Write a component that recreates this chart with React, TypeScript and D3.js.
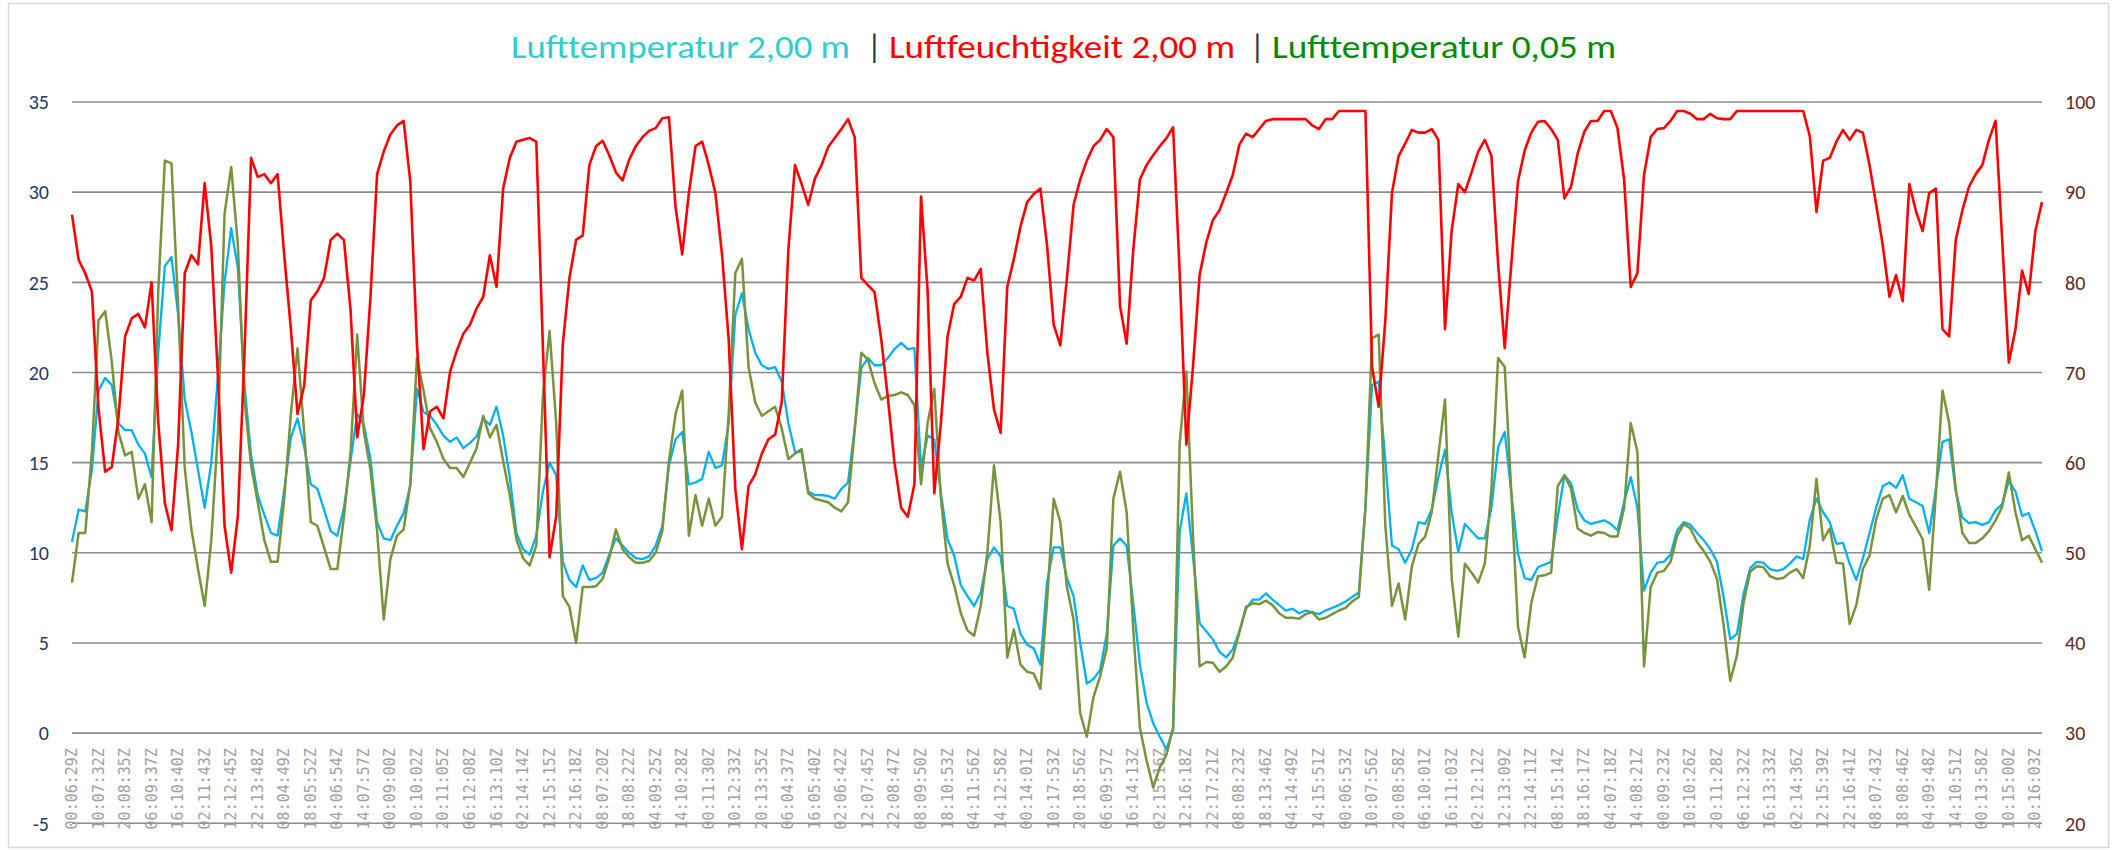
import React from 'react';
import * as d3 from 'd3';

const xLabels = [
  "00:06:29Z","10:07:32Z","20:08:35Z","06:09:37Z","16:10:40Z","02:11:43Z","12:12:45Z","22:13:48Z","08:04:49Z","18:05:52Z",
  "04:06:54Z","14:07:57Z","00:09:00Z","10:10:02Z","20:11:05Z","06:12:08Z","16:13:10Z","02:14:14Z","12:15:15Z","22:16:18Z",
  "08:07:20Z","18:08:22Z","04:09:25Z","14:10:28Z","00:11:30Z","10:12:33Z","20:13:35Z","06:04:37Z","16:05:40Z","02:06:42Z",
  "12:07:45Z","22:08:47Z","08:09:50Z","18:10:53Z","04:11:56Z","14:12:58Z","00:14:01Z","10:17:53Z","20:18:56Z","06:09:57Z",
  "16:14:13Z","02:15:16Z","12:16:18Z","22:17:21Z","08:08:23Z","18:13:46Z","04:14:49Z","14:15:51Z","00:06:53Z","10:07:56Z",
  "20:08:58Z","06:10:01Z","16:11:03Z","02:12:12Z","12:13:09Z","22:14:11Z","08:15:14Z","18:16:17Z","04:07:18Z","14:08:21Z",
  "00:09:23Z","10:10:26Z","20:11:28Z","06:12:32Z","16:13:33Z","02:14:36Z","12:15:39Z","22:16:41Z","08:07:43Z","18:08:46Z",
  "04:09:48Z","14:10:51Z","00:13:58Z","10:15:00Z","20:16:03Z"
];

// Lufttemperatur 2,00 m (°C, left axis)
const tempAir2m = [
  10.6, 12.4, 12.3, 14.6, 19.0, 19.7, 19.3, 17.2, 16.8, 16.8,
  16.0, 15.5, 14.2, 21.1, 25.9, 26.4, 23.2, 18.5, 16.7, 14.6,
  12.5, 15.0, 19.8, 25.0, 28.0, 25.8, 19.3, 15.4, 13.2, 12.1,
  11.1, 10.95, 13.5, 16.4, 17.45, 15.9, 13.8, 13.55, 12.4, 11.2,
  10.95, 12.5, 15.1, 17.7, 17.1, 15.2, 11.7, 10.8, 10.7, 11.5,
  12.2, 13.7, 19.1, 17.8, 17.6, 17.1, 16.5, 16.15, 16.4, 15.8,
  16.1, 16.45, 17.45, 17.1, 18.1, 16.5, 14.2, 11.1, 10.2, 9.9,
  10.95, 13.4, 15.0, 14.3, 9.5, 8.5, 8.1, 9.3, 8.5, 8.6,
  8.9, 9.9, 10.8, 10.4, 10.0, 9.7, 9.65, 9.8, 10.4, 11.5,
  14.85, 16.3, 16.7, 13.8, 13.9, 14.1, 15.6, 14.7, 14.85, 17.2,
  23.2, 24.4, 22.4, 21.1, 20.4, 20.2, 20.3, 19.5, 17.2, 15.6,
  15.6, 13.4, 13.2, 13.2, 13.15, 13.0, 13.55, 13.9, 16.9, 20.25,
  20.8, 20.4, 20.4, 20.8, 21.3, 21.65, 21.3, 21.35, 14.7, 16.5,
  16.3, 13.3, 10.75, 9.85, 8.2, 7.6, 7.05, 7.8, 9.65, 10.3,
  9.8, 7.05, 6.9, 5.5, 4.9, 4.7, 3.8, 8.35, 10.3, 10.3,
  8.6, 7.6, 5.0, 2.75, 3.0, 3.5, 5.5, 10.4, 10.8, 10.4,
  7.2, 3.8, 1.7, 0.55, -0.2, -0.9, 0.2, 11.2, 13.3, 9.8,
  6.1, 5.65, 5.2, 4.5, 4.2, 4.65, 5.65, 6.9, 7.4, 7.4,
  7.75, 7.4, 7.1, 6.8, 6.9, 6.65, 6.8, 6.7, 6.6, 6.8,
  6.95, 7.1, 7.3, 7.55, 7.8, 12.5, 19.3, 19.5, 15.1, 10.4,
  10.2, 9.45, 10.2, 11.7, 11.6, 12.4, 14.2, 15.7, 12.25, 10.05,
  11.6, 11.2, 10.8, 10.8, 12.5, 15.85, 16.7, 13.3, 9.95, 8.6,
  8.5, 9.2, 9.35, 9.5, 12.0, 14.3, 13.85, 12.4, 11.8, 11.6,
  11.7, 11.8, 11.6, 11.25, 12.8, 14.2, 12.5, 7.9, 8.9, 9.45,
  9.5, 9.9, 11.25, 11.7, 11.55, 11.1, 10.7, 10.2, 9.5, 7.55,
  5.2, 5.5, 7.7, 9.15, 9.5, 9.45, 9.1, 9.0, 9.1, 9.4,
  9.8, 9.65, 11.85, 13.0, 12.25, 11.7, 10.5, 10.55, 9.4, 8.5,
  9.7, 11.1, 12.5, 13.7, 13.9, 13.6, 14.3, 13.0, 12.8, 12.6,
  11.1, 13.55, 16.15, 16.3, 13.4, 11.95, 11.65, 11.7, 11.55, 11.7,
  12.35, 12.7, 14.0, 13.4, 12.05, 12.2, 11.2, 10.1
];

// Luftfeuchtigkeit 2,00 m (%, right axis)
const humidity2m = [
  87.5, 82.5, 81.0, 79.0, 66.0, 59.0, 59.5, 65.0, 74.0, 76.0,
  76.5, 75.0, 80.0, 64.5, 55.5, 52.5, 62.0, 81.0, 83.0, 82.0,
  91.0, 84.0, 69.6, 53.0, 47.8, 54.0, 72.0, 93.8, 91.7, 92.0,
  91.0, 92.0, 83.0, 74.8, 65.4, 68.5, 78.0, 79.0, 80.5, 84.7,
  85.4, 84.7, 76.9, 62.8, 67.5, 78.4, 92.0, 94.5, 96.4, 97.4,
  97.9, 91.2, 73.2, 61.5, 65.7, 66.2, 64.9, 70.1, 72.4, 74.3,
  75.3, 77.1, 78.4, 83.0, 79.5, 90.4, 93.8, 95.6, 95.8, 96.0,
  95.6, 72.7, 49.5, 54.0, 73.2, 80.5, 84.7, 85.2, 93.0, 95.1,
  95.7, 94.1, 92.2, 91.3, 93.6, 95.1, 96.1, 96.8, 97.1, 98.2,
  98.3, 88.3, 83.1, 89.9, 95.1, 95.6, 93.0, 89.9, 83.1, 73.7,
  57.1, 50.4, 57.4, 58.7, 61.0, 62.6, 63.1, 66.7, 83.6, 93.0,
  90.9, 88.6, 91.5, 93.0, 95.0, 96.0, 97.0, 98.1, 96.1, 80.5,
  79.7, 78.9, 73.7, 67.2, 60.0, 55.0, 54.0, 57.6, 89.5, 79.0,
  56.6, 64.4, 74.0, 77.6, 78.4, 80.5, 80.2, 81.5, 72.2, 65.9,
  63.3, 79.5, 82.6, 86.2, 88.9, 89.8, 90.4, 84.1, 75.3, 73.0,
  80.5, 88.6, 91.4, 93.5, 95.1, 95.8, 97.0, 96.1, 77.4, 73.2,
  83.6, 91.4, 93.0, 94.1, 95.1, 96.0, 97.2, 81.0, 62.0, 70.6,
  80.8, 84.4, 86.9, 88.0, 89.9, 91.9, 95.3, 96.5, 96.1, 97.0,
  97.9, 98.1, 98.1, 98.1, 98.1, 98.1, 98.1, 97.4, 97.0, 98.1,
  98.1, 99.0, 99.0, 99.0, 99.0, 99.0, 70.6, 66.2, 75.8, 89.9,
  94.0, 95.4, 96.9, 96.6, 96.6, 97.0, 95.8, 74.8, 85.7, 90.9,
  90.0, 92.2, 94.5, 95.8, 94.0, 82.1, 72.7, 82.1, 91.2, 94.6,
  96.6, 97.8, 97.9, 97.0, 95.8, 89.3, 90.6, 94.3, 96.7, 97.9,
  97.9, 99.0, 99.0, 97.1, 91.4, 79.5, 81.0, 91.9, 96.1, 97.0,
  97.1, 97.9, 99.0, 99.0, 98.7, 98.1, 98.1, 98.7, 98.2, 98.1,
  98.1, 99.0, 99.0, 99.0, 99.0, 99.0, 99.0, 99.0, 99.0, 99.0,
  99.0, 99.0, 96.2, 87.8, 93.5, 93.8, 95.6, 96.9, 95.8, 96.9,
  96.6, 93.0, 88.6, 84.1, 78.4, 80.8, 77.9, 90.9, 87.9, 85.7,
  89.9, 90.4, 74.8, 74.0, 84.7, 88.0, 90.6, 92.0, 93.0, 95.8,
  97.9, 84.7, 71.1, 74.8, 81.3, 78.7, 85.7, 88.9
];

// Lufttemperatur 0,05 m (°C, left axis)
const tempAir005m = [
  8.35, 11.1, 11.1, 15.6, 22.9, 23.4, 20.6, 16.7, 15.4, 15.6,
  13.0, 13.8, 11.7, 24.5, 31.75, 31.6, 23.7, 14.7, 11.3, 9.1,
  7.05, 10.7, 16.7, 28.8, 31.4, 27.1, 18.5, 14.85, 12.8, 10.7,
  9.5, 9.5, 13.0, 17.7, 21.35, 16.7, 11.7, 11.5, 10.3, 9.1,
  9.1, 12.0, 15.6, 22.1, 16.7, 14.6, 11.2, 6.3, 9.65, 10.95,
  11.3, 13.8, 20.8, 19.0, 16.9, 16.15, 15.2, 14.7, 14.7, 14.2,
  15.0, 15.8, 17.6, 16.4, 17.1, 15.1, 13.2, 10.75, 9.7, 9.3,
  10.4, 18.75, 22.3, 17.2, 7.6, 7.0, 5.0, 8.1, 8.1, 8.15,
  8.55, 9.7, 11.3, 10.2, 9.75, 9.45, 9.45, 9.55, 10.0, 11.2,
  15.1, 17.7, 19.0, 10.95, 13.2, 11.5, 13.0, 11.5, 12.0, 17.7,
  25.5, 26.3, 20.3, 18.35, 17.6, 17.85, 18.1, 16.9, 15.2, 15.5,
  15.75, 13.3, 13.0, 12.9, 12.8, 12.5, 12.3, 12.8, 16.8, 21.1,
  20.7, 19.4, 18.5, 18.7, 18.75, 18.9, 18.75, 18.2, 13.8, 17.2,
  19.1, 13.0, 9.4, 8.2, 6.65, 5.7, 5.4, 7.05, 10.0, 14.85,
  11.7, 4.2, 5.75, 3.8, 3.4, 3.3, 2.45, 7.3, 13.0, 11.7,
  8.1, 6.3, 1.1, -0.2, 2.0, 3.15, 4.7, 13.0, 14.5, 12.25,
  5.75, 0.3, -1.5, -3.0, -1.9, -1.2, 0.3, 16.1, 20.05, 10.95,
  3.7, 3.95, 3.9, 3.4, 3.7, 4.2, 5.6, 7.0, 7.2, 7.15,
  7.35, 7.1, 6.65, 6.4, 6.4, 6.35, 6.6, 6.7, 6.3, 6.4,
  6.6, 6.8, 6.95, 7.3, 7.55, 12.5, 21.9, 22.1, 11.5, 7.05,
  8.3, 6.3, 9.25, 10.5, 10.9, 12.25, 15.4, 18.5, 8.6, 5.35,
  9.4, 8.9, 8.35, 9.4, 13.55, 20.8, 20.3, 13.3, 5.9, 4.2,
  7.2, 8.7, 8.75, 8.9, 13.7, 14.3, 13.55, 11.35, 11.1, 10.95,
  11.15, 11.1, 10.9, 10.9, 12.5, 17.2, 15.6, 3.7, 8.1, 8.9,
  9.0, 9.5, 10.95, 11.6, 11.35, 10.6, 10.1, 9.5, 8.55, 6.0,
  2.9, 4.3, 7.2, 8.95, 9.25, 9.2, 8.7, 8.55, 8.6, 8.9,
  9.1, 8.6, 10.4, 14.1, 10.7, 11.35, 9.45, 9.4, 6.05, 7.1,
  9.1, 9.85, 11.85, 13.0, 13.2, 12.25, 13.15, 12.1, 11.45, 10.75,
  7.95, 13.3, 19.0, 17.2, 13.55, 11.1, 10.55, 10.55, 10.8, 11.2,
  11.8, 12.55, 14.45, 12.25, 10.7, 10.95, 10.2, 9.45
];

const leftTicks = [-5, 0, 5, 10, 15, 20, 25, 30, 35];
const rightTicks = [20, 30, 40, 50, 60, 70, 80, 90, 100];
const labelEvery = 4;

const titleParts = [
  { text: "Lufttemperatur 2,00 m", color: "#33CCCC", x: 511, len: 339 },
  { text: "|", color: "#333333", x: 867, len: 0 },
  { text: "Luftfeuchtigkeit 2,00 m", color: "#FF0000", x: 889, len: 346 },
  { text: "|", color: "#333333", x: 1250, len: 0 },
  { text: "Lufttemperatur 0,05 m", color: "#008A00", x: 1272, len: 344 },
];

export default function App() {
  const W = 2124, H = 850;
  const plotLeft = 72, plotRight = 2042, plotTop = 102, plotBottom = 823.3;
  const n = tempAir2m.length;

  const x = d3.scaleLinear().domain([0, n - 1]).range([plotLeft, plotRight]);
  const yL = d3.scaleLinear().domain([-5, 35]).range([plotBottom, plotTop]);
  const yR = d3.scaleLinear().domain([20, 100]).range([plotBottom, plotTop]);

  const lineL = d3.line<number>().x((_, i) => x(i)).y(d => yL(d)).curve(d3.curveLinear);
  const lineR = d3.line<number>().x((_, i) => x(i)).y(d => yR(d)).curve(d3.curveLinear);

  const numFont = "Carlito, Calibri, 'Open Sans', sans-serif";
  const labelTop = yL(0) + 15;

  return (
    <svg width={W} height={H} style={{ position: 'absolute', left: 0, top: 0, display: 'block', background: '#fff' }}>
      <rect x={0} y={0} width={W} height={H} fill="#fff" />
      <rect x={8.5} y={3.5} width={2100} height={844} fill="none" stroke="#D9D9D9" strokeWidth={1.5} />

      {titleParts.map((p, i) => (
        <text key={i} x={p.x} y={58} fill={p.color} fontFamily={numFont} fontSize={32}
          {...(p.len ? { textLength: p.len, lengthAdjust: 'spacingAndGlyphs' } : {})}>
          {p.text}
        </text>
      ))}

      {leftTicks.map(t => (
        <line key={'g' + t} x1={plotLeft} x2={plotRight} y1={yL(t)} y2={yL(t)} stroke="#8C8C8C" strokeWidth={1.6} />
      ))}

      {leftTicks.map(t => (
        <text key={'l' + t} x={49} y={yL(t)} dy="0.36em" textAnchor="end" fill="#1F3864"
          fontFamily={numFont} fontSize={20}>{t}</text>
      ))}
      {rightTicks.map(t => (
        <text key={'r' + t} x={2065} y={yR(t)} dy="0.36em" textAnchor="start" fill="#632523"
          fontFamily={numFont} fontSize={20}>{t}</text>
      ))}

      {xLabels.map((lab, j) => (
        <text key={'x' + j} transform={`translate(${x(j * labelEvery)},${labelTop}) rotate(-90)`}
          textAnchor="end" dominantBaseline="central" fill="#A0A0A0"
          fontFamily="'DejaVu Sans Mono', 'Liberation Mono', monospace" fontSize={15}>{lab}</text>
      ))}

      <path d={lineL(tempAir2m) || ''} fill="none" stroke="#00B0F0" strokeWidth={2.3} strokeLinejoin="round" />
      <path d={lineL(tempAir005m) || ''} fill="none" stroke="#77933C" strokeWidth={2.5} strokeLinejoin="round" />
      <path d={lineR(humidity2m) || ''} fill="none" stroke="#FF0000" strokeWidth={2.6} strokeLinejoin="round" />
    </svg>
  );
}
